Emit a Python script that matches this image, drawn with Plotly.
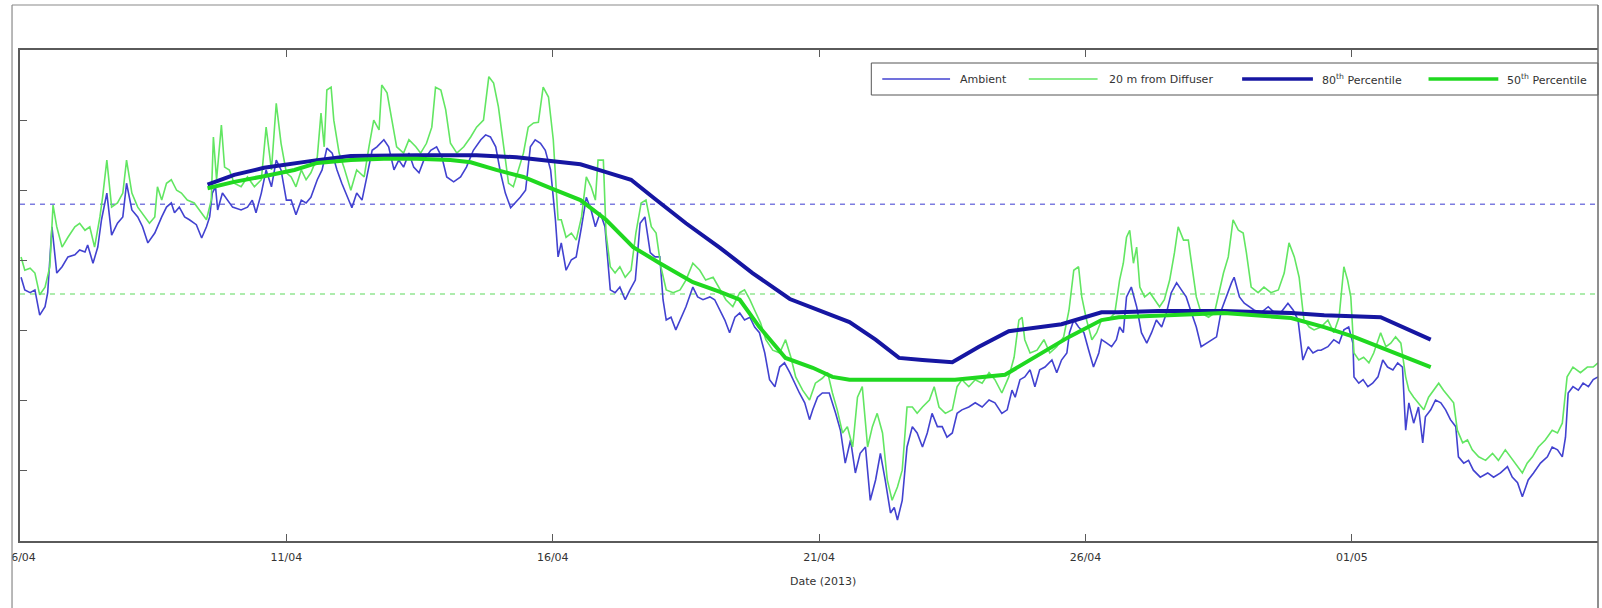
import pandas as pd
import plotly.graph_objects as go

# ---------------- data (days since 06/04/2013 00:00, value) ----------------
START = pd.Timestamp("2013-04-06")
X_END_DAYS = 29.62

x_tick_dates = ["2013-04-06", "2013-04-11", "2013-04-16", "2013-04-21", "2013-04-26", "2013-05-01"]
x_tick_labels = ["06/04", "11/04", "16/04", "21/04", "26/04", "01/05"]
y_ticks = [0, 1, 2, 3, 4, 5, 6, 7]

ambient_threshold = 4.80
diffuser_threshold = 3.52

ambient = [
    (0.02, 3.76), (0.09, 3.58), (0.19, 3.54), (0.28, 3.58), (0.37, 3.22), (0.47, 3.34), (0.52, 3.54), (0.60, 4.48),
    (0.69, 3.82), (0.79, 3.91), (0.90, 4.05), (1.03, 4.08), (1.12, 4.15), (1.22, 4.12), (1.27, 4.22), (1.37, 3.96),
    (1.46, 4.19), (1.53, 4.58), (1.63, 4.96), (1.72, 4.36), (1.83, 4.53), (1.93, 4.62), (2.00, 5.10), (2.10, 4.72),
    (2.21, 4.62), (2.30, 4.48), (2.40, 4.25), (2.53, 4.39), (2.66, 4.62), (2.75, 4.76), (2.84, 4.82), (2.90, 4.68),
    (2.99, 4.76), (3.09, 4.62), (3.18, 4.58), (3.31, 4.51), (3.41, 4.32), (3.50, 4.48), (3.56, 4.62), (3.61, 4.96),
    (3.67, 5.05), (3.71, 4.72), (3.80, 4.96), (3.89, 4.86), (3.99, 4.76), (4.15, 4.72), (4.27, 4.76), (4.36, 4.86),
    (4.43, 4.68), (4.53, 4.96), (4.62, 5.29), (4.72, 5.05), (4.81, 5.43), (4.90, 5.29), (5.00, 4.86),
    (5.09, 4.86), (5.18, 4.65), (5.28, 4.86), (5.37, 4.82), (5.46, 4.90), (5.58, 5.15), (5.67, 5.29), (5.76, 5.60),
    (5.86, 5.53), (5.95, 5.29), (6.04, 5.10), (6.14, 4.90), (6.23, 4.75), (6.32, 4.96), (6.42, 4.86), (6.51, 5.19),
    (6.61, 5.57), (6.70, 5.62), (6.83, 5.72), (6.92, 5.62), (7.02, 5.29), (7.11, 5.43), (7.20, 5.33), (7.30, 5.53),
    (7.39, 5.33), (7.49, 5.25), (7.58, 5.43), (7.71, 5.57), (7.82, 5.62), (7.92, 5.47), (8.01, 5.19), (8.14, 5.12),
    (8.27, 5.19), (8.38, 5.33), (8.51, 5.57), (8.65, 5.72), (8.74, 5.79), (8.83, 5.76), (8.93, 5.62), (9.02, 5.25),
    (9.11, 4.96), (9.21, 4.75), (9.30, 4.82), (9.39, 4.90), (9.49, 5.00), (9.58, 5.62), (9.67, 5.72), (9.77, 5.67),
    (9.86, 5.57), (9.96, 5.29), (10.05, 4.58), (10.10, 4.05),
    (10.16, 4.25), (10.25, 3.86), (10.35, 4.01), (10.44, 4.05), (10.54, 4.48), (10.63, 4.90), (10.72, 4.72),
    (10.80, 4.48), (10.89, 4.68), (10.98, 4.48), (11.08, 3.58), (11.17, 3.54), (11.26, 3.62), (11.36, 3.44),
    (11.45, 3.58), (11.55, 3.72), (11.64, 4.53), (11.73, 4.62), (11.83, 4.11), (11.92, 4.05), (12.01, 4.05),
    (12.07, 3.44), (12.13, 3.15), (12.22, 3.19), (12.31, 3.01), (12.41, 3.19), (12.50, 3.34), (12.63, 3.62),
    (12.72, 3.48), (12.82, 3.44), (12.95, 3.48), (13.04, 3.44), (13.14, 3.29), (13.23, 3.15), (13.32, 2.97),
    (13.42, 3.19), (13.51, 3.25), (13.60, 3.15), (13.70, 3.19), (13.79, 3.05), (13.88, 2.97), (13.98, 2.68),
    (14.07, 2.30), (14.17, 2.20), (14.26, 2.48), (14.35, 2.54), (14.45, 2.40), (14.54, 2.25), (14.63, 2.11),
    (14.73, 1.97), (14.82, 1.73), (14.88, 1.87), (14.97, 2.05),
    (15.06, 2.11), (15.19, 2.11), (15.31, 1.82), (15.40, 1.58), (15.49, 1.11), (15.59, 1.44), (15.68, 0.97),
    (15.77, 1.25), (15.87, 1.34), (15.96, 0.58), (16.06, 0.87), (16.15, 1.25), (16.24, 0.87), (16.34, 0.40),
    (16.41, 0.48), (16.47, 0.30), (16.56, 0.58), (16.65, 1.34), (16.75, 1.63), (16.84, 1.54), (16.94, 1.34),
    (17.03, 1.54), (17.12, 1.82), (17.22, 1.63), (17.31, 1.63), (17.40, 1.48), (17.50, 1.54), (17.59, 1.82),
    (17.68, 1.87), (17.81, 1.91), (17.93, 1.97), (18.06, 1.91), (18.19, 2.01), (18.30, 1.97), (18.43, 1.82),
    (18.53, 1.87), (18.62, 2.15), (18.68, 2.05), (18.77, 2.30), (18.86, 2.34), (18.96, 2.44), (19.05, 2.20),
    (19.14, 2.44), (19.24, 2.48), (19.37, 2.58), (19.46, 2.40), (19.55, 2.58), (19.65, 2.68), (19.70, 2.97),
    (19.78, 3.15), (19.87, 3.05), (19.97, 2.97), (20.06, 2.72), (20.15, 2.48), (20.25, 2.68),
    (20.30, 2.87), (20.40, 2.82), (20.49, 2.77), (20.58, 2.87), (20.64, 3.05), (20.71, 2.97), (20.77, 3.48),
    (20.86, 3.62), (20.96, 3.34), (21.05, 2.97), (21.15, 2.82), (21.24, 2.97), (21.33, 3.15), (21.43, 3.05),
    (21.52, 3.25), (21.61, 3.54), (21.71, 3.68), (21.80, 3.58), (21.89, 3.48), (21.99, 3.25), (22.08, 3.05),
    (22.17, 2.77), (22.27, 2.82), (22.36, 2.87), (22.46, 2.91), (22.55, 3.29), (22.60, 3.39), (22.68, 3.58),
    (22.74, 3.68), (22.79, 3.76), (22.89, 3.48), (22.98, 3.39), (23.07, 3.34), (23.17, 3.29), (23.30, 3.26),
    (23.43, 3.34), (23.54, 3.26), (23.67, 3.26), (23.80, 3.39), (23.90, 3.29), (23.99, 3.15), (24.08, 2.58),
    (24.18, 2.77), (24.27, 2.68), (24.36, 2.72),
    (24.42, 2.72), (24.55, 2.77), (24.66, 2.87), (24.76, 2.82), (24.85, 3.01), (24.94, 3.05), (25.02, 2.82),
    (25.04, 2.34), (25.13, 2.25), (25.21, 2.30), (25.30, 2.20), (25.39, 2.25), (25.49, 2.34), (25.58, 2.58),
    (25.67, 2.48), (25.77, 2.44), (25.86, 2.54), (25.95, 2.48), (26.01, 1.58), (26.07, 1.97), (26.16, 1.68),
    (26.25, 1.91), (26.33, 1.40), (26.38, 1.77), (26.48, 1.87), (26.57, 2.01), (26.67, 1.97), (26.76, 1.87),
    (26.85, 1.73), (26.95, 1.63), (27.00, 1.20), (27.10, 1.11), (27.19, 1.15), (27.28, 1.01), (27.41, 0.91),
    (27.55, 0.97), (27.66, 0.91), (27.79, 0.97), (27.92, 1.06), (28.01, 0.91), (28.11, 0.83), (28.20, 0.63),
    (28.26, 0.77), (28.31, 0.87), (28.41, 0.97), (28.54, 1.11), (28.67, 1.20), (28.76, 1.34), (28.86, 1.30),
    (28.95, 1.20), (29.01, 1.48), (29.06, 2.11), (29.15, 2.20), (29.25, 2.15), (29.34, 2.25), (29.44, 2.20),
    (29.53, 2.30), (29.62, 2.34),
]

diffuser_20m = [
    (0.02, 4.05), (0.09, 3.86), (0.19, 3.89), (0.28, 3.82), (0.37, 3.51), (0.47, 3.62), (0.56, 3.91), (0.62, 4.79),
    (0.69, 4.48), (0.79, 4.19), (0.90, 4.33), (1.03, 4.48), (1.12, 4.53), (1.22, 4.43), (1.31, 4.48), (1.40, 4.19),
    (1.50, 4.62), (1.55, 4.90), (1.63, 5.43), (1.72, 4.76), (1.83, 4.82), (1.93, 4.96), (2.00, 5.43), (2.10, 4.96),
    (2.21, 4.76), (2.34, 4.62), (2.43, 4.53), (2.53, 4.62), (2.58, 5.05), (2.66, 4.86), (2.75, 5.10), (2.84, 5.15),
    (2.94, 5.00), (3.03, 4.96), (3.14, 4.86), (3.27, 4.82), (3.41, 4.68), (3.50, 4.58), (3.59, 4.86), (3.63, 5.76),
    (3.69, 5.15), (3.78, 5.93), (3.84, 5.33), (3.93, 5.29), (4.02, 5.10), (4.15, 5.05), (4.27, 5.19), (4.40, 5.05),
    (4.53, 5.15), (4.62, 5.90), (4.72, 5.29), (4.81, 6.24), (4.90, 5.67), (5.00, 5.25),
    (5.09, 5.19), (5.18, 5.05), (5.28, 5.29), (5.37, 5.15), (5.46, 5.25), (5.58, 5.47), (5.65, 6.10), (5.71, 5.62),
    (5.76, 6.43), (5.84, 6.47), (5.89, 6.00), (5.99, 5.53), (6.08, 5.33), (6.21, 5.00), (6.32, 5.29), (6.46, 5.19),
    (6.55, 5.62), (6.64, 6.00), (6.74, 5.86), (6.79, 6.50), (6.89, 6.39), (6.98, 6.00), (7.07, 5.62), (7.20, 5.53),
    (7.30, 5.72), (7.43, 5.62), (7.52, 5.53), (7.63, 5.67), (7.73, 5.90), (7.80, 6.47), (7.90, 6.43), (7.99, 6.15),
    (8.08, 5.67), (8.20, 5.53), (8.33, 5.62), (8.46, 5.76), (8.57, 5.90), (8.70, 6.00), (8.80, 6.62), (8.89, 6.53),
    (8.98, 6.19), (9.08, 5.62), (9.17, 5.10), (9.26, 5.05), (9.36, 5.29), (9.45, 5.53), (9.54, 5.90), (9.64, 5.96),
    (9.73, 5.97), (9.82, 6.47), (9.92, 6.33), (10.01, 5.72), (10.10, 4.58),
    (10.16, 4.58), (10.25, 4.33), (10.35, 4.39), (10.44, 4.29), (10.54, 4.62), (10.63, 5.19), (10.72, 5.05),
    (10.80, 4.86), (10.85, 5.43), (10.95, 5.43), (11.00, 4.39), (11.08, 3.91), (11.17, 3.82), (11.26, 3.91),
    (11.36, 3.76), (11.47, 3.86), (11.56, 4.39), (11.66, 4.82), (11.75, 4.86), (11.85, 4.48), (11.94, 4.39),
    (12.03, 3.91), (12.13, 3.58), (12.26, 3.54), (12.39, 3.58), (12.50, 3.72), (12.63, 3.96), (12.76, 3.86),
    (12.87, 3.72), (13.01, 3.76), (13.14, 3.58), (13.25, 3.44), (13.38, 3.34), (13.51, 3.54), (13.60, 3.58),
    (13.70, 3.44), (13.79, 3.29), (13.90, 3.11), (14.00, 2.87), (14.13, 2.72), (14.26, 2.68), (14.37, 2.87),
    (14.47, 2.62), (14.56, 2.34), (14.69, 2.15), (14.82, 2.01), (14.93, 2.25),
    (15.06, 2.32), (15.16, 2.40), (15.25, 2.11), (15.34, 1.87), (15.44, 1.54), (15.53, 1.63), (15.63, 1.34),
    (15.72, 2.05), (15.81, 2.20), (15.91, 1.34), (16.00, 1.63), (16.09, 1.82), (16.19, 1.54), (16.28, 0.87),
    (16.37, 0.58), (16.47, 0.77), (16.56, 1.01), (16.65, 1.91), (16.75, 1.91), (16.84, 1.82), (16.94, 1.91),
    (17.07, 2.01), (17.16, 2.20), (17.25, 1.91), (17.37, 1.82), (17.50, 1.87), (17.59, 2.20), (17.68, 2.30),
    (17.81, 2.20), (17.93, 2.30), (18.06, 2.25), (18.19, 2.40), (18.30, 2.30), (18.43, 2.11), (18.56, 2.34),
    (18.66, 2.62), (18.75, 3.15), (18.81, 3.19), (18.86, 2.87), (18.96, 2.68), (19.09, 2.72), (19.22, 2.87),
    (19.33, 2.68), (19.46, 2.77), (19.59, 2.91), (19.69, 3.29), (19.78, 3.86), (19.87, 3.91), (19.93, 3.48),
    (20.02, 3.15), (20.12, 2.87), (20.21, 2.97),
    (20.30, 3.15), (20.43, 3.15), (20.55, 3.25), (20.64, 3.72), (20.71, 3.96), (20.77, 4.33), (20.83, 4.43),
    (20.90, 3.96), (20.96, 4.19), (21.02, 3.62), (21.11, 3.48), (21.21, 3.54), (21.30, 3.44), (21.39, 3.34),
    (21.48, 3.44), (21.58, 3.72), (21.67, 4.11), (21.74, 4.48), (21.84, 4.29), (21.93, 4.29), (21.99, 3.96),
    (22.08, 3.48), (22.17, 3.25), (22.31, 3.19), (22.42, 3.25), (22.51, 3.54), (22.59, 3.82), (22.68, 4.05),
    (22.77, 4.58), (22.87, 4.43), (22.96, 4.39), (23.02, 4.11), (23.11, 3.62), (23.24, 3.54), (23.35, 3.62),
    (23.48, 3.54), (23.62, 3.58), (23.73, 3.82), (23.82, 4.25), (23.92, 4.05), (24.01, 3.76), (24.10, 3.15),
    (24.20, 3.05), (24.29, 3.01), (24.42, 3.05),
    (24.55, 3.15), (24.66, 2.97), (24.76, 3.19), (24.85, 3.91), (24.92, 3.72), (24.98, 3.48), (25.04, 2.68),
    (25.13, 2.58), (25.22, 2.62), (25.32, 2.54), (25.41, 2.68), (25.54, 2.97), (25.64, 2.77), (25.73, 2.82),
    (25.82, 2.91), (25.92, 2.82), (26.01, 2.34), (26.07, 2.15), (26.16, 2.05), (26.25, 1.97), (26.35, 1.87),
    (26.44, 2.05), (26.53, 2.15), (26.63, 2.25), (26.72, 2.15), (26.82, 2.05), (26.91, 1.97), (26.98, 1.58),
    (27.08, 1.40), (27.17, 1.44), (27.26, 1.30), (27.38, 1.20), (27.51, 1.15), (27.64, 1.25), (27.75, 1.15),
    (27.88, 1.30), (27.98, 1.20), (28.11, 1.06), (28.20, 0.97), (28.29, 1.11), (28.39, 1.20), (28.50, 1.34),
    (28.63, 1.44), (28.76, 1.58), (28.86, 1.54), (28.95, 1.68), (29.04, 2.34), (29.15, 2.48), (29.29, 2.40),
    (29.42, 2.48), (29.53, 2.48), (29.62, 2.54),
]

percentile_80 = [
    (3.52, 5.08), (4.02, 5.22), (4.58, 5.32), (5.15, 5.39), (5.58, 5.43), (6.21, 5.49), (6.83, 5.50), (7.45, 5.50),
    (8.08, 5.50), (8.57, 5.50), (9.32, 5.47), (10.01, 5.42), (10.52, 5.37), (11.00, 5.26), (11.47, 5.15),
    (11.88, 4.90), (12.50, 4.53), (13.14, 4.18), (13.75, 3.82), (14.45, 3.45), (15.25, 3.21), (15.57, 3.12),
    (16.06, 2.87), (16.50, 2.61), (16.94, 2.58), (17.50, 2.55), (18.00, 2.77), (18.56, 2.99), (19.55, 3.09),
    (20.30, 3.26), (20.62, 3.26), (21.37, 3.28), (22.60, 3.28), (23.86, 3.25), (24.48, 3.22), (24.98, 3.21),
    (25.54, 3.19), (26.48, 2.87),
]

percentile_50 = [
    (3.52, 5.03), (4.02, 5.12), (4.58, 5.20), (5.15, 5.29), (5.58, 5.39), (6.21, 5.43), (6.83, 5.45), (7.45, 5.45),
    (8.08, 5.43), (8.46, 5.40), (8.94, 5.29), (9.45, 5.19), (9.96, 5.03), (10.52, 4.86), (11.00, 4.58),
    (11.51, 4.19), (12.01, 3.96), (12.63, 3.69), (13.14, 3.55), (13.51, 3.44), (13.88, 3.05), (14.37, 2.61),
    (14.88, 2.47), (15.25, 2.34), (15.57, 2.30), (16.32, 2.30), (17.55, 2.30), (18.49, 2.37), (19.05, 2.62),
    (19.69, 2.91), (20.30, 3.15), (20.62, 3.19), (22.60, 3.25), (23.86, 3.18), (24.48, 3.05), (25.04, 2.91),
    (25.67, 2.72), (26.48, 2.48),
]

series_names = ["Ambient", "20 m from Diffuser", "80<sup>th</sup> Percentile", "50<sup>th</sup> Percentile"]

# ---------------- styling ----------------
C_AMB = "#4242d0"
C_DIF = "#62e662"
C_P80 = "#1616a2"
C_P50 = "#20d820"
C_AMB_THR = "#7c7ce0"
C_DIF_THR = "#92e692"
AXIS_C = "#5a5a5a"
FONT = "DejaVu Sans"


def to_xy(pairs):
    days, vals = zip(*pairs)
    x = [START + pd.to_timedelta(d, unit="D") for d in days]
    return x, list(vals)


x_end = START + pd.to_timedelta(X_END_DAYS, unit="D")

fig = go.Figure()

# threshold (dashed) lines
for thr, col in [(ambient_threshold, C_AMB_THR), (diffuser_threshold, C_DIF_THR)]:
    fig.add_trace(go.Scatter(x=[START, x_end], y=[thr, thr], mode="lines",
                             line=dict(color=col, width=1.5, dash="5px,5px"),
                             showlegend=False, hoverinfo="skip"))

for pairs, name, col, w in [
    (ambient, series_names[0], C_AMB, 1.6),
    (diffuser_20m, series_names[1], C_DIF, 1.6),
    (percentile_80, series_names[2], C_P80, 4),
    (percentile_50, series_names[3], C_P50, 4),
]:
    x, y = to_xy(pairs)
    fig.add_trace(go.Scatter(x=x, y=y, mode="lines", name=name,
                             line=dict(color=col, width=w), showlegend=False))

W, H = 1602, 608
ML, MR, MT, MB = 15, 4, 50, 67
PW, PH = W - ML - MR, H - MT - MB


def px(xpix):
    return (xpix - ML) / PW


def py(ypix):
    return (H - MB - ypix) / PH


shapes = []
# legend box (cut at the right edge like the reference)
shapes.append(dict(type="rect", xref="paper", yref="paper", x0=px(869), x1=1.0, y0=py(95), y1=py(63),
                   line=dict(color="#555555", width=1), fillcolor="white", layer="above"))
legend_items = [
    (880, 948, 956, C_AMB, 1.5),
    (1027, 1096, 1105, C_DIF, 1.5),
    (1241, 1312, 1319, C_P80, 3.5),
    (1428, 1498, 1505, C_P50, 3.5),
]
annotations = []
for (x0, x1, xt, col, w), name in zip(legend_items, series_names):
    shapes.append(dict(type="line", xref="paper", yref="paper", x0=px(x0), x1=px(x1), y0=py(79), y1=py(79),
                       line=dict(color=col, width=w), layer="above"))
    annotations.append(dict(text=name, xref="paper", yref="paper", x=px(xt), y=py(79),
                            xanchor="left", yanchor="middle", showarrow=False,
                            font=dict(family=FONT, size=11, color="#333333")))

# hide what lies left of the image frame, then the frame itself
shapes.append(dict(type="rect", xref="paper", yref="paper", x0=px(-5), x1=px(6.5), y0=py(620), y1=py(-5),
                   line=dict(width=0), fillcolor="white", layer="above"))
shapes.append(dict(type="line", xref="paper", yref="paper", x0=px(7), x1=px(7), y0=py(5), y1=py(620),
                   line=dict(color="#8a8a8a", width=1.2), layer="above"))
shapes.append(dict(type="line", xref="paper", yref="paper", x0=px(7), x1=1.0, y0=py(5), y1=py(5),
                   line=dict(color="#8a8a8a", width=1.2), layer="above"))
shapes.append(dict(type="line", xref="paper", yref="paper", x0=1.0, x1=1.0, y0=py(5), y1=py(620),
                   line=dict(color="#6a6a6a", width=1.5), layer="above"))

annotations.append(dict(text="Date (2013)", xref="paper", yref="paper", x=px(821), y=py(581),
                        xanchor="center", yanchor="middle", showarrow=False,
                        font=dict(family=FONT, size=11, color="#333333")))

fig.update_layout(
    width=W, height=H,
    margin=dict(l=ML, r=MR, t=MT, b=MB, pad=0),
    paper_bgcolor="white", plot_bgcolor="white",
    font=dict(family=FONT, size=11, color="#333333"),
    showlegend=False,
    shapes=shapes,
    annotations=annotations,
    xaxis=dict(type="date", range=[START, x_end],
               tickvals=[pd.Timestamp(d) for d in x_tick_dates], ticktext=x_tick_labels,
               ticks="inside", ticklen=7, tickwidth=1.2, tickcolor=AXIS_C,
               showline=True, linecolor=AXIS_C, linewidth=1.5, mirror="ticks",
               showgrid=False, zeroline=False, ticklabelstandoff=5,
               ticklabeloverflow="allow",
               tickfont=dict(family=FONT, size=11, color="#333333")),
    yaxis=dict(range=[0, 7], tickvals=y_ticks, showticklabels=False,
               ticks="inside", ticklen=7, tickwidth=1.2, tickcolor=AXIS_C,
               showline=True, linecolor=AXIS_C, linewidth=1.5, mirror=False,
               showgrid=False, zeroline=False),
)

fig.write_html("out.html", config={"displayModeBar": False},
               post_script="document.body.style.margin='0';")
